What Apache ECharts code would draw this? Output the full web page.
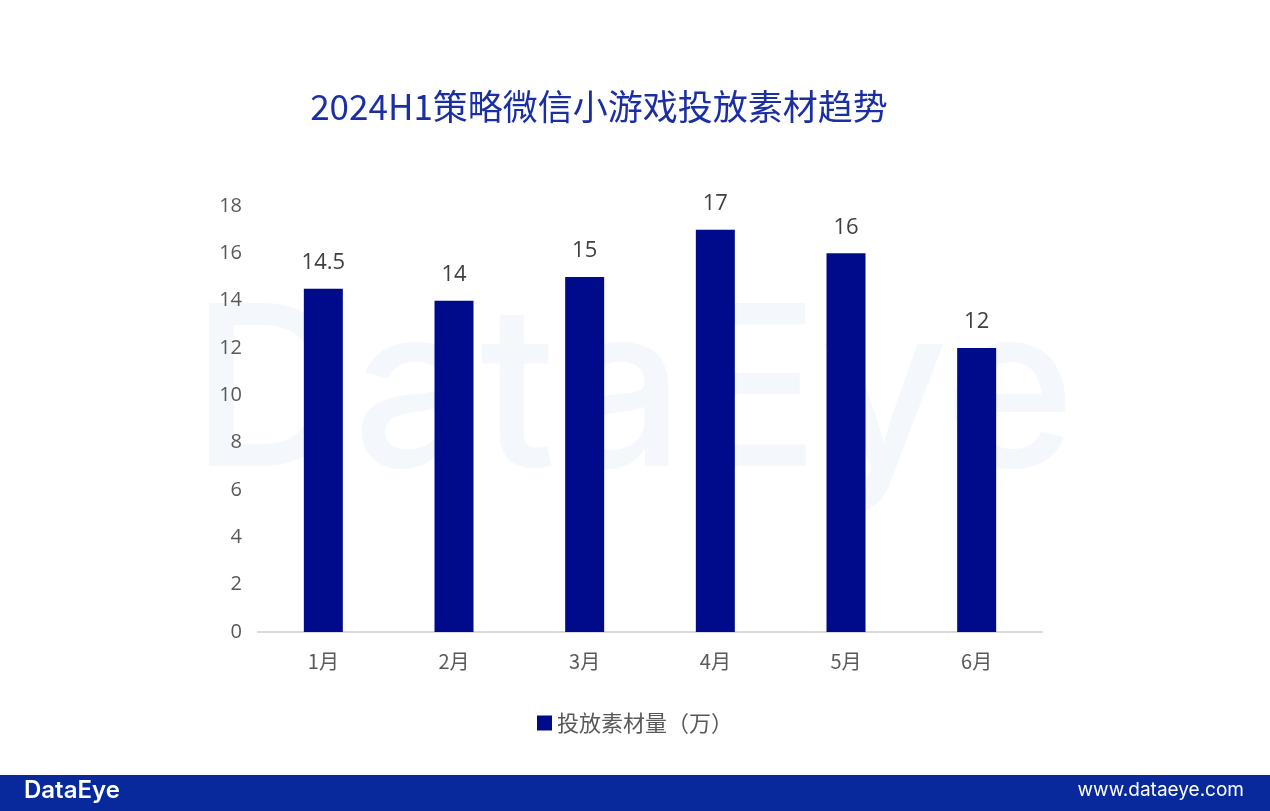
<!DOCTYPE html>
<html><head><meta charset="utf-8">
<script src="https://cdn.jsdelivr.net/npm/echarts@6/dist/echarts.min.js"></script>
<style>html,body{margin:0;padding:0;background:#fff}#c{width:1270px;height:811px}</style>
</head><body><div id="c"></div>
<script>
const categories = ['1月','2月','3月','4月','5月','6月'];
const values = [14.5, 14, 15, 17, 16, 12];
const seriesName = '投放素材量（万）';
const titleText = '2024H1策略微信小游戏投放素材趋势';
const yTicks = {min:0, max:18, interval:2};

const chart = echarts.init(document.getElementById('c'));
chart.setOption({
  backgroundColor:'#fff',
  animation:false,
  title:{text:titleText, left:594, top:84, textAlign:'center',
    textStyle:{color:'#1b2fa3', fontSize:35, fontWeight:'normal', fontFamily:'"Noto Sans CJK SC", sans-serif'}},
  graphic:[
    {type:'text', left:191, top:287, z:-10, silent:true,
      style:{text:'DataEye', fill:'#f4f8fd', font:'500 224px Inter, sans-serif'}},
    {type:'rect', left:0, top:775, z:10, shape:{width:1270, height:36}, style:{fill:'#07299b'}},
    {type:'text', left:24, top:779, z:11, style:{text:'DataEye', fill:'#fff', font:'600 24px Inter, sans-serif'}},
    {type:'text', right:26, top:781, z:11, style:{text:'www.dataeye.com', fill:'#fff', font:'19px Inter, sans-serif'}}
  ],
  legend:{data:[seriesName], left:'center', top:707, icon:'rect', itemWidth:15, itemHeight:15, itemGap:9,
    textStyle:{color:'#595959', fontSize:22, fontFamily:'"Noto Sans CJK SC", sans-serif'}},
  grid:{left:258, right:228, top:206, bottom:179},
  xAxis:{type:'category', data:categories,
    axisLine:{lineStyle:{color:'#d9d9d9', width:2}}, axisTick:{show:false},
    axisLabel:{color:'#595959', fontSize:20, margin:19, fontFamily:'"Noto Sans CJK SC", sans-serif'}},
  yAxis:{type:'value', min:yTicks.min, max:yTicks.max, interval:yTicks.interval,
    splitLine:{show:false}, axisLine:{show:false}, axisTick:{show:false},
    axisLabel:{color:'#595959', fontSize:20, margin:16, fontFamily:'"Open Sans", sans-serif'}},
  series:[{name:seriesName, type:'bar', data:values, barWidth:39,
    itemStyle:{color:'#000b8c'},
    label:{show:true, position:'top', distance:15, color:'#404040', fontSize:22, fontFamily:'"Open Sans", sans-serif'}}]
});
</script></body></html>
